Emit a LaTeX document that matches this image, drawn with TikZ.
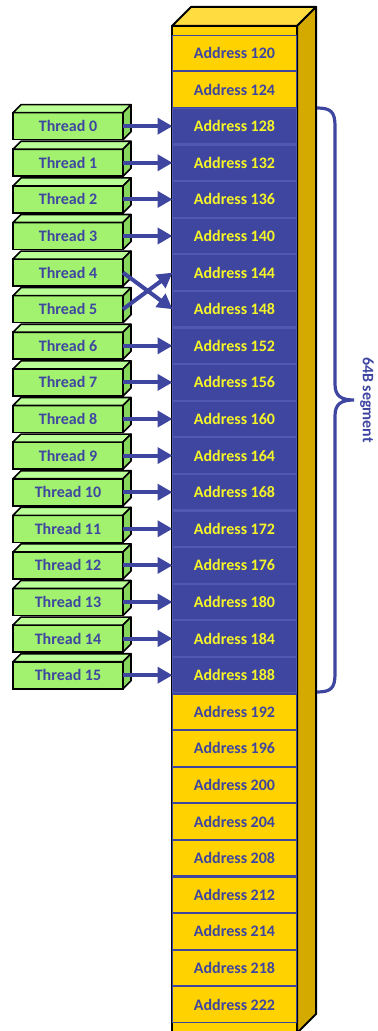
\documentclass[tikz,border=0pt]{standalone}
\usepackage{fontspec}
\setmainfont{Carlito}
\usetikzlibrary{arrows.meta}
\definecolor{memYellow}{RGB}{255,210,0}
\definecolor{memTop}{RGB}{255,221,64}
\definecolor{memSide}{RGB}{212,170,0}
\definecolor{memBlue}{RGB}{63,70,160}
\definecolor{memLine}{RGB}{80,88,176}
\definecolor{txtYellow}{RGB}{245,245,40}
\definecolor{thrGreen}{RGB}{162,242,112}
\definecolor{thrLight}{RGB}{186,255,150}
\definecolor{thrDark}{RGB}{134,214,92}
\newcommand{\boxSides}[1]{%
  \draw[thrTop] (#1.north west) -- ++(8,-8) -- ++(110,0) -- (#1.north east) -- cycle;
  \draw[thrSide] (#1.north east) -- ++(8,-8) -- ++(0,27) -- (#1.south east) -- cycle;}

\begin{document}
\begin{tikzpicture}[x=0.5pt,y=-0.5pt,font=\fontsize{8}{9.6}\selectfont\bfseries,
  addrY/.style={draw=memBlue,line width=0.6pt,fill=memYellow,text=memBlue,minimum width=62pt,minimum height=17.8pt,inner sep=0pt,outer sep=0pt},
  addrB/.style={addrY,draw=memLine,fill=memBlue,text=txtYellow},
  thread/.style={draw=black,line width=0.8pt,fill=thrGreen,text=memBlue,minimum width=55pt,minimum height=13.5pt,inner sep=0pt,outer sep=0pt},
  thrTop/.style={draw=black,line width=0.8pt,fill=thrLight,line join=round},
  thrSide/.style={draw=black,line width=0.8pt,fill=thrDark,line join=round},
  colFace/.style={draw=black,line width=1pt,line join=round},
  link/.style={-{Triangle[length=7.5pt,width=8pt]},line width=2pt,draw=memBlue},
  segBrace/.style={draw=memBlue,line width=1.6pt}]

\clip (0,0) rectangle (377,1031);

% memory column
\draw[colFace,fill=memYellow] (172,26) rectangle (297,1040);
\draw[colFace,fill=memTop] (172,26) -- (191,7) -- (316,7) -- (297,26) -- cycle;
\draw[colFace,fill=memSide] (297,26) -- (316,7) -- (316,1014) -- (297,1033) -- cycle;

\node[addrY] (a120) at (234.5,53) {Address 120};
\node[addrY] (a124) at (234.5,89.6) {Address 124};
\node[addrB] (a128) at (234.5,126.2) {Address 128};
\node[addrB] (a132) at (234.5,162.8) {Address 132};
\node[addrB] (a136) at (234.5,199.4) {Address 136};
\node[addrB] (a140) at (234.5,236) {Address 140};
\node[addrB] (a144) at (234.5,272.6) {Address 144};
\node[addrB] (a148) at (234.5,309.2) {Address 148};
\node[addrB] (a152) at (234.5,345.8) {Address 152};
\node[addrB] (a156) at (234.5,382.4) {Address 156};
\node[addrB] (a160) at (234.5,419) {Address 160};
\node[addrB] (a164) at (234.5,455.6) {Address 164};
\node[addrB] (a168) at (234.5,492.2) {Address 168};
\node[addrB] (a172) at (234.5,528.8) {Address 172};
\node[addrB] (a176) at (234.5,565.4) {Address 176};
\node[addrB] (a180) at (234.5,602) {Address 180};
\node[addrB] (a184) at (234.5,638.6) {Address 184};
\node[addrB] (a188) at (234.5,675.2) {Address 188};
\node[addrY] (a192) at (234.5,711.8) {Address 192};
\node[addrY] (a196) at (234.5,748.4) {Address 196};
\node[addrY] (a200) at (234.5,785) {Address 200};
\node[addrY] (a204) at (234.5,821.6) {Address 204};
\node[addrY] (a208) at (234.5,858.2) {Address 208};
\node[addrY] (a212) at (234.5,894.8) {Address 212};
\node[addrY] (a214) at (234.5,931.4) {Address 214};
\node[addrY] (a218) at (234.5,968) {Address 218};
\node[addrY] (a222) at (234.5,1004.6) {Address 222};

% threads
\node[thread] (t0) at (68,126.2) {Thread 0}; \boxSides{t0}
\draw[link] (t0.east) -- (a128.west);
\node[thread] (t1) at (68,162.8) {Thread 1}; \boxSides{t1}
\draw[link] (t1.east) -- (a132.west);
\node[thread] (t2) at (68,199.4) {Thread 2}; \boxSides{t2}
\draw[link] (t2.east) -- (a136.west);
\node[thread] (t3) at (68,236) {Thread 3}; \boxSides{t3}
\draw[link] (t3.east) -- (a140.west);
\node[thread] (t4) at (68,272.6) {Thread 4}; \boxSides{t4}
\node[thread] (t5) at (68,309.2) {Thread 5}; \boxSides{t5}
\draw[link] (t4.east) -- (a148.west);
\draw[link] (t5.east) -- (a144.west);
\node[thread] (t6) at (68,345.8) {Thread 6}; \boxSides{t6}
\draw[link] (t6.east) -- (a152.west);
\node[thread] (t7) at (68,382.4) {Thread 7}; \boxSides{t7}
\draw[link] (t7.east) -- (a156.west);
\node[thread] (t8) at (68,419) {Thread 8}; \boxSides{t8}
\draw[link] (t8.east) -- (a160.west);
\node[thread] (t9) at (68,455.6) {Thread 9}; \boxSides{t9}
\draw[link] (t9.east) -- (a164.west);
\node[thread] (t10) at (68,492.2) {Thread 10}; \boxSides{t10}
\draw[link] (t10.east) -- (a168.west);
\node[thread] (t11) at (68,528.8) {Thread 11}; \boxSides{t11}
\draw[link] (t11.east) -- (a172.west);
\node[thread] (t12) at (68,565.4) {Thread 12}; \boxSides{t12}
\draw[link] (t12.east) -- (a176.west);
\node[thread] (t13) at (68,602) {Thread 13}; \boxSides{t13}
\draw[link] (t13.east) -- (a180.west);
\node[thread] (t14) at (68,638.6) {Thread 14}; \boxSides{t14}
\draw[link] (t14.east) -- (a184.west);
\node[thread] (t15) at (68,675.2) {Thread 15}; \boxSides{t15}
\draw[link] (t15.east) -- (a188.west);

% segment brace
\draw[segBrace] (317,108) .. controls (331,108) and (335,112) .. (335,126) -- (335,384)
  .. controls (335,396) and (341,400) .. (354,400) .. controls (341,400) and (335,404) .. (335,416)
  -- (335,674) .. controls (335,688) and (331,692) .. (317,692);
\node[text=memBlue,rotate=-90] (lblSeg) at (367,400) {64B segment};

\end{tikzpicture}
\end{document}
